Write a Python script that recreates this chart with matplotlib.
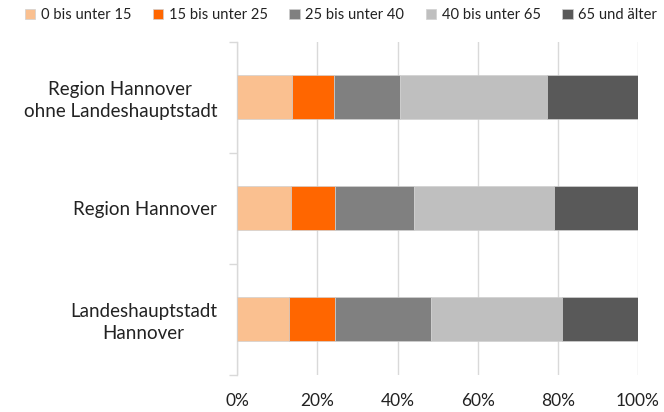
import matplotlib.pyplot as plt
import numpy as np

plt.rcParams['font.family'] = ['Lato', 'DejaVu Sans']

categories = ['Landeshauptstadt\nHannover', 'Region Hannover',
              'Region Hannover\nohne Landeshauptstadt']
groups = ['0 bis unter 15', '15 bis unter 25', '25 bis unter 40',
          '40 bis unter 65', '65 und älter']
age_0_15 = [12.9, 13.3, 13.6]
age_15_25 = [11.6, 11.1, 10.5]
age_25_40 = [23.8, 19.8, 16.4]
age_40_65 = [32.8, 34.9, 36.8]
age_65 = [18.9, 20.9, 22.7]
colors = ['#FAC090', '#FF6600', '#808080', '#BFBFBF', '#595959']

fig = plt.figure(figsize=(6.64, 4.12), dpi=100)
ax = fig.add_axes([237.3 / 664, (412 - 374.5) / 412,
                   (638 - 237.3) / 664, (374.5 - 41.5) / 412])

y = np.arange(len(categories))
left = np.zeros(len(categories))
for vals, name, c in zip([age_0_15, age_15_25, age_25_40, age_40_65, age_65],
                         groups, colors):
    ax.barh(y, vals, left=left, height=0.4, color=c, label=name,
            edgecolor='#d0d0d0', linewidth=0.5, zorder=3)
    left += np.array(vals)

ax.set_xlim(0, 100)
ax.set_ylim(-0.5, 2.5)
ax.set_xticks(np.arange(0, 101, 20))
ax.set_xticklabels([f'{v}%' for v in range(0, 101, 20)])
ax.set_yticks(y)
ax.set_yticklabels(categories, fontsize=13.5, color='#222222',
                   multialignment='center', linespacing=1.35)
ax.set_yticks([-0.5, 0.5, 1.5, 2.5], minor=True)
ax.tick_params(axis='y', which='major', length=0, pad=14.5)
ax.tick_params(axis='y', which='minor', length=6, color='#d9d9d9', width=1)
ax.tick_params(axis='x', length=0, pad=13, labelsize=12.5, labelcolor='#222222')
ax.xaxis.grid(True, color='#d9d9d9', linewidth=1, zorder=0)
for s in ['top', 'right', 'bottom']:
    ax.spines[s].set_visible(False)
ax.spines['left'].set_color('#d9d9d9')
ax.spines['left'].set_linewidth(1)

fig.legend(loc='center', bbox_to_anchor=(341 / 664, 1 - 15 / 412), ncol=5,
           frameon=False, fontsize=10.6, handlelength=0.7, handleheight=0.7,
           handletextpad=0.4, columnspacing=1.45, labelcolor='#222222',
           borderpad=0)

fig.savefig('out.png', dpi=100)
